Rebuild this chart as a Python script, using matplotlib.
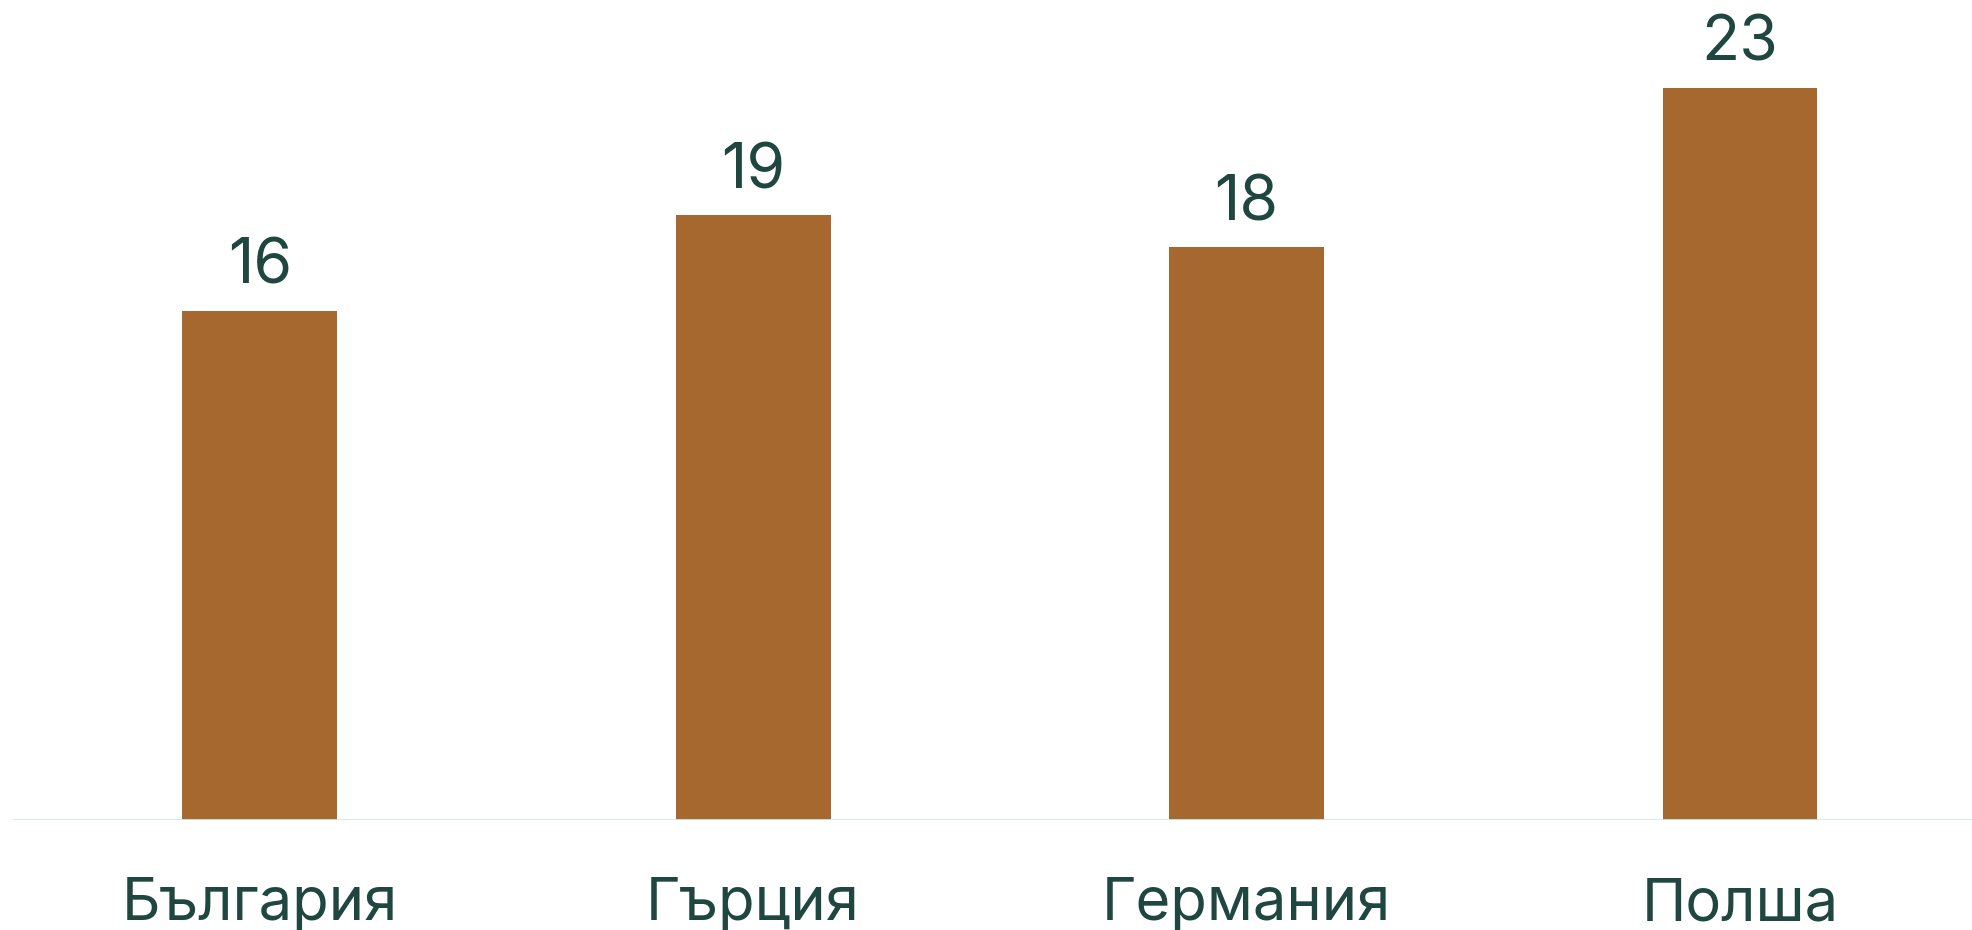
import matplotlib
matplotlib.use("Agg")
import matplotlib.pyplot as plt

countries = ["България", "Гърция", "Германия", "Полша"]
values = [16, 19, 18, 23]

bar_color = "#a6682f"
text_color = "#1f4740"
line_color = "#c9ecf0"

plt.rcParams['font.family'] = ['Inter', 'DejaVu Sans']

W, H = 1972, 930
fig = plt.figure(figsize=(W / 100, H / 100), dpi=100)
# axes from x=13px to the right edge, baseline at y=820px
ax = fig.add_axes([13 / W, (H - 820) / H, 1 - 13 / W, 820 / H])

x = range(len(countries))
ax.bar(x, values, width=0.314, color=bar_color, zorder=2)
ax.axhline(0, color=line_color, lw=2, zorder=3)

ax.set_xlim(-0.5, 3 + (W - 1740) / 493.5)
ax.set_ylim(0, 820 / 31.83)
ax.axis('off')

for i, v in enumerate(values):
    ax.annotate(str(v), xy=(i, v), xytext=(0, 27), textcoords='offset pixels',
                ha='center', va='baseline', fontsize=45, color=text_color)
for i, name in enumerate(countries):
    ax.annotate(name, xy=(i, 0), xytext=(0, -100), textcoords='offset pixels',
                ha='center', va='baseline', fontsize=43, color=text_color,
                annotation_clip=False)

fig.savefig("out.png", dpi=100)
